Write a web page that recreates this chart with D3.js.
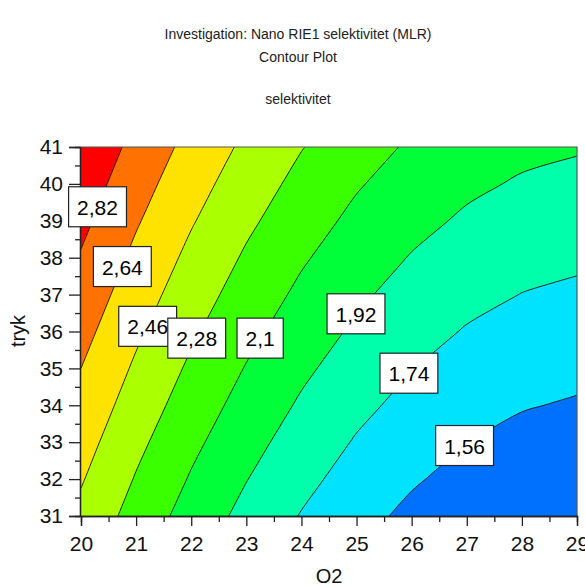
<!DOCTYPE html>
<html>
<head>
<meta charset="utf-8">
<script src="https://cdn.jsdelivr.net/npm/d3@7"></script>
<style>
  html, body { margin: 0; padding: 0; background: #fff; }
  svg { display: block; font-family: "Liberation Sans", Arial, sans-serif; }
</style>
</head>
<body>
<svg id="chart" width="585" height="588"></svg>
<script>
// ---- data ----
const titleLines = ["Investigation: Nano RIE1 selektivitet (MLR)", "Contour Plot"];
const responseName = "selektivitet";
const xLabel = "O2";
const yLabel = "tryk";
const xGrid = [20, 21, 22, 23, 24, 25, 26, 27, 28, 29];          // O2
const yGrid = [31, 32, 33, 34, 35, 36, 37, 38, 39, 40, 41];      // tryk
// estimated selektivitet at each (O2, tryk) grid point; one row per tryk value
const grid = [
  [2.418, 2.212, 2.029, 1.869, 1.731, 1.615, 1.522, 1.451, 1.403, 1.378],
  [2.474, 2.268, 2.085, 1.925, 1.787, 1.671, 1.578, 1.507, 1.459, 1.434],
  [2.529, 2.323, 2.140, 1.980, 1.842, 1.726, 1.633, 1.562, 1.514, 1.489],
  [2.585, 2.379, 2.196, 2.036, 1.898, 1.782, 1.689, 1.618, 1.570, 1.545],
  [2.640, 2.434, 2.251, 2.091, 1.953, 1.837, 1.744, 1.673, 1.625, 1.600],
  [2.696, 2.490, 2.307, 2.147, 2.009, 1.893, 1.800, 1.729, 1.681, 1.656],
  [2.752, 2.546, 2.363, 2.203, 2.065, 1.949, 1.856, 1.785, 1.737, 1.712],
  [2.807, 2.601, 2.418, 2.258, 2.120, 2.004, 1.911, 1.840, 1.792, 1.767],
  [2.863, 2.657, 2.474, 2.314, 2.176, 2.060, 1.967, 1.896, 1.848, 1.823],
  [2.918, 2.712, 2.529, 2.369, 2.231, 2.115, 2.022, 1.951, 1.903, 1.878],
  [2.974, 2.768, 2.585, 2.425, 2.287, 2.171, 2.078, 2.007, 1.959, 1.934]
];
const levels = [1.56, 1.74, 1.92, 2.1, 2.28, 2.46, 2.64, 2.82];
const bandColors = ["#0071FF", "#00E3FF", "#00FFAA", "#00FF39", "#39FF00", "#AAFF00", "#FFE300", "#FF7100", "#FF0000"];
const xTicks = [20, 21, 22, 23, 24, 25, 26, 27, 28, 29];
const yTicks = [31, 32, 33, 34, 35, 36, 37, 38, 39, 40, 41];
// contour labels and their anchor points on the lines (O2, tryk), drawn in this order
const labelOrder = ["2,82", "2,64", "2,46", "2,28", "2,1", "1,92", "1,74", "1,56"];
const labelX = [20.30, 20.75, 21.21, 22.10, 23.25, 24.99, 25.95, 26.96];
const labelY = [39.38, 37.76, 36.14, 35.82, 35.82, 36.48, 34.87, 32.91];

// ---- layout ----
const svg = d3.select("#chart");
const L = 81, R = 577, T = 147, B = 516;
const x = d3.scaleLinear().domain([20, 29]).range([L, R]);
const y = d3.scaleLinear().domain([31, 41]).range([B, T]);

// titles
svg.append("text").attr("x", 298).attr("y", 39).attr("text-anchor", "middle")
  .attr("font-size", 14).attr("fill", "#222").text(titleLines[0]);
svg.append("text").attr("x", 298).attr("y", 62).attr("text-anchor", "middle")
  .attr("font-size", 14).attr("fill", "#222").text(titleLines[1]);
svg.append("text").attr("x", 298).attr("y", 104).attr("text-anchor", "middle")
  .attr("font-size", 14).attr("fill", "#222").text(responseName);

// clip
svg.append("defs").append("clipPath").attr("id", "plotclip")
  .append("rect").attr("x", L).attr("y", T).attr("width", R - L).attr("height", B - T);

const plot = svg.append("g").attr("clip-path", "url(#plotclip)");

// contours
const nx = xGrid.length, ny = yGrid.length;
const values = grid.flat();
const contours = d3.contours().size([nx, ny]).thresholds(levels)(values);
const dx = xGrid[1] - xGrid[0], dy = yGrid[1] - yGrid[0];
const px = gx => x(xGrid[0] + (gx - 0.5) * dx);
const py = gy => y(yGrid[0] + (gy - 0.5) * dy);
const eps = 1e-9;
const inside = p => p[0] >= 0.5 - eps && p[0] <= nx - 0.5 + eps && p[1] >= 0.5 - eps && p[1] <= ny - 0.5 + eps;
const closedLine = d3.line().curve(d3.curveCatmullRomClosed.alpha(0.5));
const openLine = d3.line().curve(d3.curveCatmullRom.alpha(0.5));

function ringPath(ring) {
  const pts = ring.slice(0, ring.length - 1);
  const start = pts.findIndex(p => !inside(p));
  if (start < 0) return closedLine(pts.map(p => [px(p[0]), py(p[1])]));
  const rot = pts.slice(start).concat(pts.slice(0, start));
  let s = "";
  let run = [];
  const flush = () => {
    if (run.length) {
      const str = run.length > 1 ? openLine(run) : "M" + run[0][0] + "," + run[0][1];
      s += "L" + str.slice(1);
      run = [];
    }
  };
  rot.forEach((p, i) => {
    const q = [px(p[0]), py(p[1])];
    if (inside(p)) { run.push(q); }
    else {
      flush();
      s += (i === 0 ? "M" : "L") + q[0] + "," + q[1];
    }
  });
  flush();
  return s + "Z";
}
function smoothPath(mp) {
  let s = "";
  mp.coordinates.forEach(poly => poly.forEach(ring => { s += ringPath(ring); }));
  return s;
}

plot.append("rect").attr("x", L).attr("y", T).attr("width", R - L).attr("height", B - T)
  .attr("fill", bandColors[0]);
plot.selectAll("path.band").data(contours).join("path")
  .attr("class", "band")
  .attr("d", smoothPath)
  .attr("fill", (d, i) => bandColors[i + 1])
  .attr("stroke", "none");
plot.selectAll("path.line").data(contours).join("path")
  .attr("class", "line")
  .attr("d", smoothPath)
  .attr("fill", "none")
  .attr("stroke", "#111")
  .attr("stroke-width", 0.9);

// frame top/right
svg.append("path").attr("d", `M${L},${T}H${R}V${B}`).attr("fill", "none")
  .attr("stroke", "#555").attr("stroke-width", 1.2);

// axes
const xAxisMinor = d3.axisBottom(x).tickValues(d3.range(20.5, 29, 1)).tickSize(6).tickFormat("");
const xAxis = d3.axisBottom(x).tickValues(xTicks).tickSize(10).tickPadding(10).tickFormat(d3.format("d"));
const yAxisMinor = d3.axisLeft(y).tickValues(d3.range(31.5, 41, 1)).tickSize(5).tickFormat("");
const yAxis = d3.axisLeft(y).tickValues(yTicks).tickSize(11).tickPadding(6).tickFormat(d3.format("d"));

function styleAxis(g) {
  g.select(".domain").attr("stroke", "#222").attr("stroke-width", 1.3);
  g.selectAll(".tick line").attr("stroke", "#222").attr("stroke-width", 1.3);
  g.selectAll(".tick text").attr("font-size", 21).attr("fill", "#111")
    .attr("font-family", "'Liberation Sans', Arial, sans-serif");
}
svg.append("g").attr("transform", `translate(0,${B})`).call(xAxisMinor).call(styleAxis);
svg.append("g").attr("transform", `translate(0,${B})`).call(xAxis).call(styleAxis);
svg.append("g").attr("transform", `translate(${L - 1},0)`).call(yAxisMinor).call(styleAxis);
svg.append("g").attr("transform", `translate(${L - 1},0)`).call(yAxis).call(styleAxis);

// axis titles
svg.append("text").attr("x", 329).attr("y", 583).attr("text-anchor", "middle")
  .attr("font-size", 20).attr("fill", "#111").text(xLabel);
svg.append("text").attr("transform", "translate(25,331) rotate(-90)").attr("text-anchor", "middle")
  .attr("font-size", 20).attr("fill", "#111").text(yLabel);

// contour labels
const lab = svg.append("g");
labelOrder.forEach((t, i) => {
  const cx = x(labelX[i]), cy = y(labelY[i]);
  const g = lab.append("g");
  const rect = g.append("rect");
  const txt = g.append("text").attr("x", cx).attr("y", cy + 8).attr("text-anchor", "middle")
    .attr("font-size", 21).attr("fill", "#000").text(t);
  const w = txt.node().getComputedTextLength() + 17;
  rect.attr("x", cx - w / 2).attr("y", cy - 20).attr("width", w).attr("height", 40)
    .attr("fill", "#fff").attr("stroke", "#222").attr("stroke-width", 1.2);
});
</script>
</body>
</html>
